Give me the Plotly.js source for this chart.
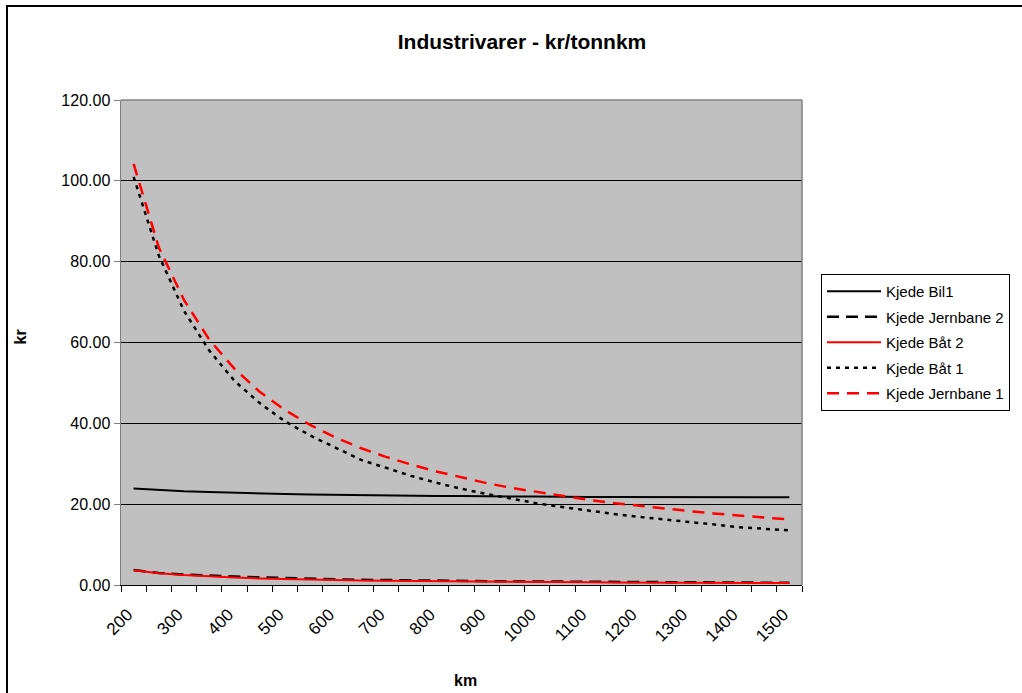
<!DOCTYPE html>
<html>
<head>
<meta charset="utf-8">
<script src="https://cdn.plot.ly/plotly-3.0.1.min.js"></script>
<style>
  html, body { margin: 0; padding: 0; background: #fff; }
  #chart { position: absolute; left: 0; top: 0; width: 1022px; height: 693px; }
  #frame { position: absolute; left: 6px; top: 5px; width: 1100px; height: 800px;
           border-left: 2px solid #000; border-top: 2px solid #000; pointer-events: none; }
</style>
</head>
<body>
<div id="chart"></div>
<div id="frame"></div>
<script>
const km = [200, 250, 300, 350, 400, 450, 500, 550, 600, 650, 700, 750, 800, 850,
            900, 950, 1000, 1050, 1100, 1150, 1200, 1250, 1300, 1350, 1400, 1450, 1500];

const bil1 = [23.9, 23.5, 23.2, 23.0, 22.8, 22.6, 22.5, 22.4, 22.3, 22.2, 22.1, 22.1, 22.0, 22.0,
              21.9, 21.9, 21.9, 21.8, 21.8, 21.8, 21.8, 21.7, 21.7, 21.7, 21.7, 21.7, 21.7];

const jernbane2 = [3.7, 3.0, 2.6, 2.3, 2.1, 1.9, 1.7, 1.5, 1.4, 1.3, 1.2, 1.1, 1.05, 1.0,
                   0.95, 0.9, 0.85, 0.8, 0.78, 0.74, 0.7, 0.68, 0.65, 0.62, 0.6, 0.58, 0.56];

const baat2 = [3.65, 2.9, 2.45, 2.1, 1.85, 1.62, 1.46, 1.33, 1.22, 1.13, 1.05, 0.98, 0.92, 0.86,
               0.81, 0.77, 0.73, 0.70, 0.66, 0.64, 0.61, 0.58, 0.56, 0.54, 0.52, 0.50, 0.49];

const baat1 = [101.0, 81.5, 67.8, 58.0, 50.5, 45.0, 40.5, 37.0, 34.0, 31.0, 29.0, 27.0, 25.3, 23.8,
               22.5, 21.3, 20.2, 19.3, 18.4, 17.6, 16.9, 16.2, 15.6, 15.0, 14.3, 13.9, 13.5];

const jernbane1 = [104.2, 83.5, 70.5, 60.7, 53.5, 47.8, 43.3, 39.6, 36.5, 33.9, 31.7, 29.8, 28.1, 26.6,
                   25.2, 24.0, 23.0, 22.0, 21.1, 20.3, 19.6, 19.0, 18.3, 17.7, 17.2, 16.7, 16.2];

const seriesNames = ['Kjede Bil1', 'Kjede Jernbane 2', 'Kjede Båt 2', 'Kjede Båt 1', 'Kjede Jernbane 1'];
const yTicks = [0, 20, 40, 60, 80, 100, 120];
const xLabels = km.filter((v, i) => i % 2 === 0);
const boundaries = km.map((v, i) => i - 0.5).concat([km.length - 0.5]);

const FONT = 'Arial, "Liberation Sans", sans-serif';

function tr(name, y, color, width, dash, group) {
  return {
    type: 'scatter', mode: 'lines', name: name, x: km, y: y,
    line: { color: color, width: width, dash: dash },
    legendgroup: group, hoverinfo: 'x+y+name'
  };
}

const data = [
  tr(seriesNames[0], bil1, '#000000', 2, 'solid', 'g1'),
  tr(seriesNames[1], jernbane2, '#000000', 2.5, '12px,7px', 'g2'),
  tr(seriesNames[2], baat2, '#FF0000', 2, 'solid', 'g3'),
  tr(seriesNames[3], baat1, '#000000', 2.5, '4px,5px', 'g4'),
  tr(seriesNames[4], jernbane1, '#FF0000', 2.5, '12px,8px', 'g5'),
  { type: 'scatter', mode: 'lines', x: [boundaries[0]], y: [0], xaxis: 'x2',
    showlegend: false, hoverinfo: 'skip', line: { width: 0 } }
];

const layout = {
  width: 1022, height: 693,
  margin: { l: 121, r: 220, t: 100, b: 108 },
  paper_bgcolor: '#ffffff',
  plot_bgcolor: '#C0C0C0',
  font: { family: FONT, color: '#000' },
  showlegend: true,
  title: {
    text: 'Industrivarer - kr/tonnkm',
    font: { family: FONT, size: 21, weight: 'bold', color: '#000' },
    xref: 'container', yref: 'container',
    x: 522 / 1022, xanchor: 'center',
    y: 1 - 42 / 693, yanchor: 'middle'
  },
  xaxis: {
    type: 'category',
    range: [-0.5, km.length - 0.5],
    tickvals: xLabels,
    ticktext: xLabels.map(String),
    tickangle: -45,
    ticks: '',
    ticklabelstandoff: 12,
    ticklabelshift: -6,
    tickfont: { family: FONT, size: 17, color: '#000' },
    showgrid: false, zeroline: false,
    showline: true, linecolor: '#000', linewidth: 1,
    fixedrange: true
  },
  xaxis2: {
    overlaying: 'x', anchor: 'y', type: 'linear',
    range: [-0.5, km.length - 0.5],
    tickvals: boundaries,
    ticks: 'outside', ticklen: 6, tickcolor: '#000', tickwidth: 1,
    showticklabels: false, showgrid: false, zeroline: false,
    showline: true, linecolor: '#000', linewidth: 1
  },
  yaxis: {
    range: [0, 120],
    tickvals: yTicks,
    ticktext: yTicks.map(v => v.toFixed(2)),
    tickfont: { family: FONT, size: 16, color: '#000' },
    ticks: 'outside', ticklen: 6, tickcolor: '#808080', tickwidth: 1,
    showgrid: true, gridcolor: '#000', gridwidth: 1,
    zeroline: false,
    showline: true, linecolor: '#808080', linewidth: 1.5,
    fixedrange: true
  },
  legend: {
    x: (821 - 121) / 681, xanchor: 'left',
    y: (585 - 274) / 485, yanchor: 'top',
    bgcolor: '#ffffff', bordercolor: '#000', borderwidth: 1,
    font: { family: FONT, size: 15, color: '#000' },
    tracegroupgap: 3,
    itemwidth: 54,
    traceorder: 'grouped'
  },
  shapes: [
    { type: 'line', xref: 'paper', yref: 'paper', x0: 0, x1: 1, y0: 1, y1: 1,
      line: { color: '#808080', width: 1.5 } },
    { type: 'line', xref: 'paper', yref: 'paper', x0: 1, x1: 1, y0: 0, y1: 1,
      line: { color: '#808080', width: 1.5 } }
  ],
  annotations: [
    { text: 'kr', xref: 'paper', yref: 'paper', x: (19.5 - 121) / 681, y: (585 - 337) / 485,
      xanchor: 'center', yanchor: 'middle', textangle: -90, showarrow: false,
      font: { family: FONT, size: 16, weight: 'bold', color: '#000' } },
    { text: 'km', xref: 'paper', yref: 'paper', x: (465.6 - 121) / 681, y: (585 - 680) / 485,
      xanchor: 'center', yanchor: 'middle', showarrow: false,
      font: { family: FONT, size: 16, weight: 'bold', color: '#000' } }
  ]
};

Plotly.newPlot('chart', data, layout, { displayModeBar: false, staticPlot: true });
</script>
</body>
</html>
